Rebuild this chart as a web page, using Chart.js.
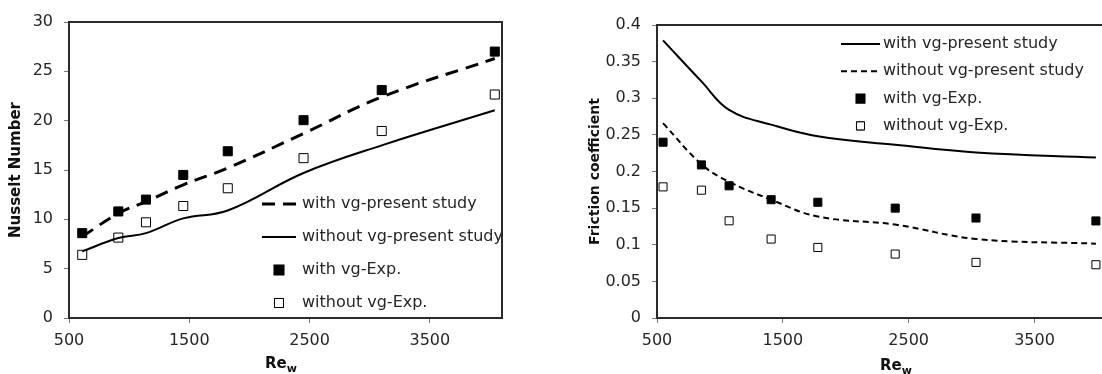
<!DOCTYPE html>
<html lang="en">
  <head>
    <meta charset="UTF-8" />
    <title>Nusselt number and friction coefficient</title>
    <script src="https://cdn.jsdelivr.net/npm/chart.js"></script>
    <style>
      html, body { margin: 0; padding: 0; background: #fff; overflow: hidden; }
      #wrap { position: relative; width: 1102px; height: 374px; overflow: hidden; }
      #nu { position: absolute; left: 0; top: 0; }
      #fc { position: absolute; left: 545px; top: 0; }
    </style>
  </head>
  <body>
    <div id="wrap">
      <canvas id="nu" width="560" height="374"></canvas>
      <canvas id="fc" width="575" height="374"></canvas>
    </div>
    <script>
      // left chart: Nusselt number
      const reNu = [610, 910, 1140, 1450, 1820, 2450, 3100, 4040];
      const nuWithSim = [8.25, 10.6, 11.8, 13.5, 15.2, 18.7, 22.4, 26.3];
      const nuWithoutSim = [6.75, 8.1, 8.6, 10.1, 10.9, 14.7, 17.5, 21.05];
      const nuWithExp = [8.6, 10.8, 12.0, 14.5, 16.9, 20.05, 23.1, 27.0];
      const nuWithoutExp = [6.4, 8.15, 9.7, 11.35, 13.15, 16.2, 18.95, 22.65];
      const nuTicks = [0, 5, 10, 15, 20, 25, 30];

      // right chart: friction coefficient
      const reF = [548, 853, 1073, 1407, 1778, 2393, 3035, 3988];
      const fWithSim = [0.379, 0.323, 0.284, 0.264, 0.248, 0.2365, 0.226, 0.219];
      const fWithoutSim = [0.266, 0.21, 0.186, 0.1615, 0.1385, 0.1275, 0.108, 0.1015];
      const fWithExp = [0.24, 0.209, 0.1805, 0.1615, 0.158, 0.15, 0.1365, 0.1325];
      const fWithoutExp = [0.179, 0.1745, 0.1327, 0.1078, 0.0963, 0.0873, 0.0759, 0.0727];
      const fTicks = [0, 0.05, 0.1, 0.15, 0.2, 0.25, 0.3, 0.35, 0.4];

      const reTicks = [500, 1500, 2500, 3500];

      const labels = [
        "with vg-present study",
        "without vg-present study",
        "with vg-Exp.",
        "without vg-Exp.",
      ];

      const FONT = "'DejaVu Sans', sans-serif";
      const TXT = "#262626";

      function pts(xs, ys) {
        return xs.map((x, i) => ({ x: x, y: ys[i] }));
      }

      function lineSet(label, xs, ys, dash, width) {
        return {
          type: "line",
          label: label,
          data: pts(xs, ys),
          borderColor: "#000",
          borderWidth: width,
          borderDash: dash,
          pointRadius: 0,
          tension: 0.4,
          fill: false,
        };
      }

      function markSet(label, xs, ys, filled, r) {
        return {
          type: "scatter",
          label: label,
          data: pts(xs, ys),
          showLine: false,
          pointStyle: "rect",
          pointRadius: r,
          pointHoverRadius: r,
          pointBackgroundColor: filled ? "#000" : "#fff",
          pointBorderColor: "#000",
          pointBorderWidth: 1,
        };
      }

      // frame round the plot area, the inside legend and the Re_w title
      const decor = {
        id: "decor",
        afterDraw(chart, args, o) {
          const ctx = chart.ctx;
          const a = chart.chartArea;
          ctx.save();
          ctx.strokeStyle = "#2b2b2b";
          ctx.lineWidth = 2;
          ctx.setLineDash([]);
          ctx.strokeRect(a.left, a.top, a.right - a.left, a.bottom - a.top);

          // legend
          ctx.font = "16px " + FONT;
          ctx.fillStyle = TXT;
          ctx.textBaseline = "middle";
          ctx.textAlign = "left";
          chart.data.datasets.forEach((ds, i) => {
            const y = o.legY + i * o.legGap;
            if (ds.type === "line") {
              ctx.strokeStyle = "#000";
              ctx.lineWidth = ds.borderWidth;
              ctx.setLineDash(ds.borderDash || []);
              ctx.beginPath();
              ctx.moveTo(o.legX0, y);
              ctx.lineTo(o.legX1, y);
              ctx.stroke();
              ctx.setLineDash([]);
            } else {
              Chart.helpers.drawPoint(
                ctx,
                { pointStyle: "rect", radius: ds.pointRadius, borderWidth: 1 },
                (o.legX0 + o.legX1) / 2,
                y
              );
              ctx.fillStyle = ds.pointBackgroundColor;
              ctx.strokeStyle = "#000";
              ctx.lineWidth = 1;
              ctx.beginPath();
              Chart.helpers.drawPoint(
                ctx,
                { pointStyle: "rect", radius: ds.pointRadius, borderWidth: 1 },
                (o.legX0 + o.legX1) / 2,
                y
              );
              ctx.fillStyle = TXT;
            }
            ctx.fillStyle = TXT;
            ctx.fillText(ds.label, o.legText, y);
          });

          // x title: Re with subscript w
          ctx.fillStyle = "#111";
          ctx.textBaseline = "alphabetic";
          ctx.font = "bold 15px " + FONT;
          const w1 = ctx.measureText("Re").width;
          ctx.font = "bold 11px " + FONT;
          const w2 = ctx.measureText("w").width;
          const x0 = o.titleX - (w1 + w2) / 2;
          ctx.font = "bold 15px " + FONT;
          ctx.fillText("Re", x0, o.titleY);
          ctx.font = "bold 11px " + FONT;
          ctx.fillText("w", x0 + w1, o.titleY + 4);
          ctx.restore();
        },
      };

      function makeChart(id, sets, yMin, yMax, yTicks, yTitle, cfg) {
        return new Chart(document.getElementById(id), {
          data: { datasets: sets },
          plugins: [decor],
          options: {
            responsive: false,
            animation: false,
            events: [],
            layout: { padding: cfg.pad },
            plugins: {
              legend: { display: false },
              tooltip: { enabled: false },
              decor: cfg.decor,
            },
            scales: {
              x: {
                type: "linear",
                min: 500,
                max: cfg.xMax,
                afterBuildTicks: (s) => {
                  s.ticks = reTicks.map((v) => ({ value: v }));
                },
                afterFit: (s) => {
                  s.height = 56;
                },
                grid: {
                  drawOnChartArea: false,
                  drawTicks: true,
                  tickLength: 5,
                  color: "#777",
                },
                border: { display: false },
                ticks: {
                  color: TXT,
                  font: { family: FONT, size: 16 },
                  padding: 8,
                  maxRotation: 0,
                  callback: (v) => String(v),
                },
              },
              y: {
                type: "linear",
                min: yMin,
                max: yMax,
                afterBuildTicks: (s) => {
                  s.ticks = yTicks.map((v) => ({ value: v }));
                },
                afterFit: (s) => {
                  s.width = cfg.yWidth;
                },
                grid: {
                  drawOnChartArea: false,
                  drawTicks: true,
                  tickLength: 5,
                  color: "#777",
                },
                border: { display: false },
                title: {
                  display: true,
                  text: yTitle,
                  color: "#111",
                  font: { family: FONT, size: cfg.titleSize, weight: "bold" },
                  padding: { top: cfg.titlePad, bottom: 0 },
                },
                ticks: {
                  color: TXT,
                  font: { family: FONT, size: 16 },
                  padding: 11,
                  callback: (v) => String(v),
                },
              },
            },
          },
        });
      }

      makeChart(
        "nu",
        [
          lineSet(labels[0], reNu, nuWithSim, [13, 8], 3),
          lineSet(labels[1], reNu, nuWithoutSim, [], 2),
          markSet(labels[2], reNu, nuWithExp, true, 6.4),
          markSet(labels[3], reNu, nuWithoutExp, false, 6.4),
        ],
        0,
        30,
        nuTicks,
        "Nusselt Number",
        {
          xMax: 4100,
          pad: { top: 22, right: 58, left: 0, bottom: 0 },
          yWidth: 69,
          titleSize: 15,
          titlePad: 7,
          decor: {
            legX0: 262, legX1: 296, legText: 302,
            legY: 204, legGap: 33,
            titleX: 281, titleY: 368,
          },
        }
      );

      makeChart(
        "fc",
        [
          lineSet(labels[0], reF, fWithSim, [], 2),
          lineSet(labels[1], reF, fWithoutSim, [6, 4], 2),
          markSet(labels[2], reF, fWithExp, true, 5.7),
          markSet(labels[3], reF, fWithoutExp, false, 5.7),
        ],
        0,
        0.4,
        fTicks,
        "Friction coefficient",
        {
          xMax: 4100,
          pad: { top: 25, right: 10, left: 0, bottom: 0 },
          yWidth: 112,
          titleSize: 14,
          titlePad: 42,
          decor: {
            legX0: 296, legX1: 335, legText: 338,
            legY: 44, legGap: 27.3,
            titleX: 351, titleY: 370,
          },
        }
      );
    </script>
  </body>
</html>
